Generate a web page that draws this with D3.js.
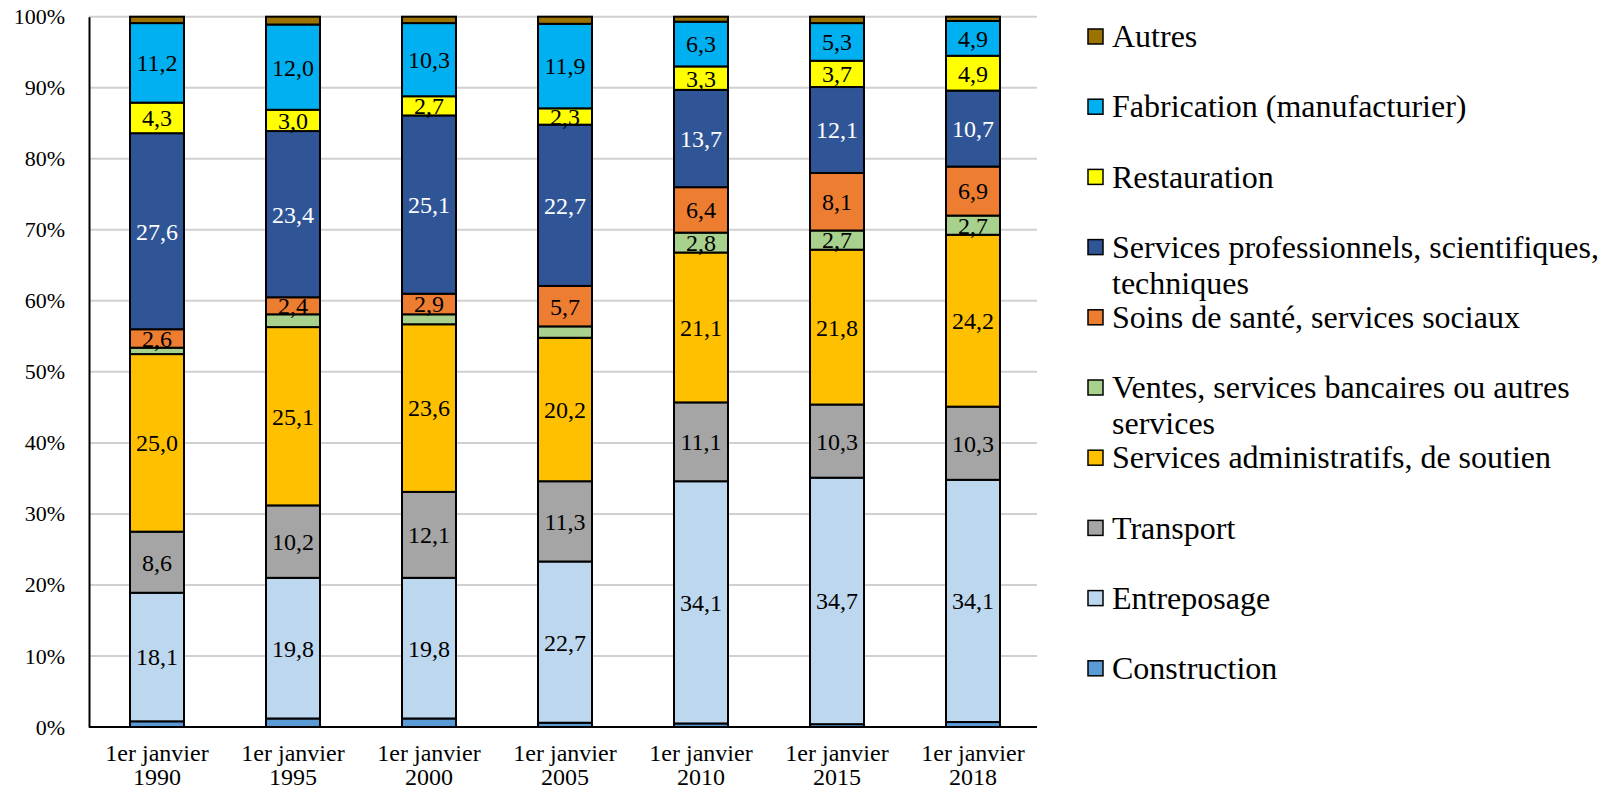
<!DOCTYPE html>
<html><head><meta charset="utf-8">
<script src="https://cdn.jsdelivr.net/npm/d3@7"></script>
<style>body{margin:0;background:#fff}svg{display:block}text{font-family:"Liberation Serif","Times New Roman",serif}</style>
</head><body>
<svg id="c" width="1612" height="792"></svg>
<script>
const categories = ["1er janvier\n1990","1er janvier\n1995","1er janvier\n2000","1er janvier\n2005","1er janvier\n2010","1er janvier\n2015","1er janvier\n2018"];
const seriesNames = ["Construction","Entreposage","Transport","Services administratifs, de soutien","Ventes, services bancaires ou autres services","Soins de santé, services sociaux","Services professionnels, scientifiques, techniques","Restauration","Fabrication (manufacturier)","Autres"];
const construction  = [0.8, 1.2, 1.2, 0.6, 0.5, 0.4, 0.7];
const entreposage   = [18.1, 19.8, 19.8, 22.7, 34.1, 34.7, 34.1];
const transport     = [8.6, 10.2, 12.1, 11.3, 11.1, 10.3, 10.3];
const administratif = [25.0, 25.1, 23.6, 20.2, 21.1, 21.8, 24.2];
const ventes        = [0.9, 1.8, 1.4, 1.6, 2.8, 2.7, 2.7];
const soins         = [2.6, 2.4, 2.9, 5.7, 6.4, 8.1, 6.9];
const professionnel = [27.6, 23.4, 25.1, 22.7, 13.7, 12.1, 10.7];
const restauration  = [4.3, 3.0, 2.7, 2.3, 3.3, 3.7, 4.9];
const fabrication   = [11.2, 12.0, 10.3, 11.9, 6.3, 5.3, 4.9];
const autres        = [0.9, 1.1, 0.9, 1.0, 0.7, 0.9, 0.6];
const yTicks = [0,10,20,30,40,50,60,70,80,90,100];

const seriesValues = [construction, entreposage, transport, administratif, ventes, soins, professionnel, restauration, fabrication, autres];
const colors = ["#5B9BD5","#BDD7EE","#A5A5A5","#FFC000","#A9D18E","#ED7D31","#2F5597","#FFFF00","#00B0F0","#9C7300"];
const labelColors = ["#000","#000","#000","#000","#000","#000","#fff","#000","#000","#000"];

const svg = d3.select("#c");
const x0 = 89, x1 = 1041, yTop = 16.7, yBot = 727;
const x = d3.scaleBand().domain(d3.range(categories.length)).range([x0, x1]).paddingInner(0.603).paddingOuter(0.3015);
const y = d3.scaleLinear().domain([0,100]).range([yBot, yTop]);

// gridlines
svg.append("g").selectAll("line").data(yTicks.filter(t=>t>0)).join("line")
  .attr("x1", x0).attr("x2", 1037).attr("y1", d=>y(d)).attr("y2", d=>y(d))
  .attr("stroke", "#d0d0d0").attr("stroke-width", 2);

// y axis
const yAxis = svg.append("g").attr("transform", `translate(${x0},0)`)
  .call(d3.axisLeft(y).tickValues(yTicks).tickSize(0).tickPadding(24).tickFormat(d=>d+"%"));
yAxis.select(".domain").attr("stroke","#000").attr("stroke-width",2);
yAxis.selectAll("text").attr("font-size", 22).attr("fill","#000").attr("font-family","Liberation Serif");

// stack
const rows = categories.map((c,i)=>{ const o={idx:i}; seriesValues.forEach((s,k)=>o[k]=s[i]); return o; });
const stack = d3.stack().keys(d3.range(seriesValues.length))(rows);

const g = svg.append("g");
stack.forEach((layer,k)=>{
  g.append("g").selectAll("rect").data(layer).join("rect")
    .attr("x", d=>x(d.data.idx)).attr("width", x.bandwidth())
    .attr("y", d=>y(d[1])).attr("height", d=>y(d[0])-y(d[1]))
    .attr("fill", colors[k]).attr("stroke","#000").attr("stroke-width",2);
});
stack.forEach((layer,k)=>{
  g.append("g").selectAll("text").data(layer.filter(d=>(d[1]-d[0])>=2)).join("text")
    .attr("x", d=>x(d.data.idx)+x.bandwidth()/2).attr("y", d=>y((d[0]+d[1])/2))
    .attr("dy","0.35em").attr("text-anchor","middle").attr("font-size",24)
    .attr("fill", labelColors[k])
    .text(d=>d3.format(".1f")(d[1]-d[0]).replace(".",","));
});

// x axis
svg.append("line").attr("x1",x0).attr("x2",1037).attr("y1",yBot).attr("y2",yBot).attr("stroke","#000").attr("stroke-width",2);
const xl = svg.append("g").selectAll("text").data(categories).join("text")
  .attr("x",(d,i)=>x(i)+x.bandwidth()/2).attr("y",753).attr("text-anchor","middle").attr("font-size",24);
xl.each(function(d){
  const parts=d.split("\n"); const t=d3.select(this);
  parts.forEach((p,j)=>t.append("tspan").attr("x",t.attr("x")).attr("dy", j===0?"0.35em":"24").text(p));
});

// legend
const legendItems = [
  {k:9, lines:["Autres"]},
  {k:8, lines:["Fabrication (manufacturier)"]},
  {k:7, lines:["Restauration"]},
  {k:6, lines:["Services professionnels, scientifiques,","techniques"]},
  {k:5, lines:["Soins de santé, services sociaux"]},
  {k:4, lines:["Ventes, services bancaires ou autres","services"]},
  {k:3, lines:["Services administratifs, de soutien"]},
  {k:2, lines:["Transport"]},
  {k:1, lines:["Entreposage"]},
  {k:0, lines:["Construction"]}
];
const lg = svg.append("g");
legendItems.forEach((it,i)=>{
  const cy = 36 + i*70.2;
  lg.append("rect").attr("x",1088).attr("y",cy-7).attr("width",15).attr("height",15)
    .attr("fill",colors[it.k]).attr("stroke","#000").attr("stroke-width",1.5);
  const t = lg.append("text").attr("x",1112).attr("y",cy).attr("font-size",32).attr("fill","#000");
  it.lines.forEach((l,j)=>t.append("tspan").attr("x",1112).attr("dy", j===0?"0.35em":"36").text(l));
});
</script>
</body></html>
